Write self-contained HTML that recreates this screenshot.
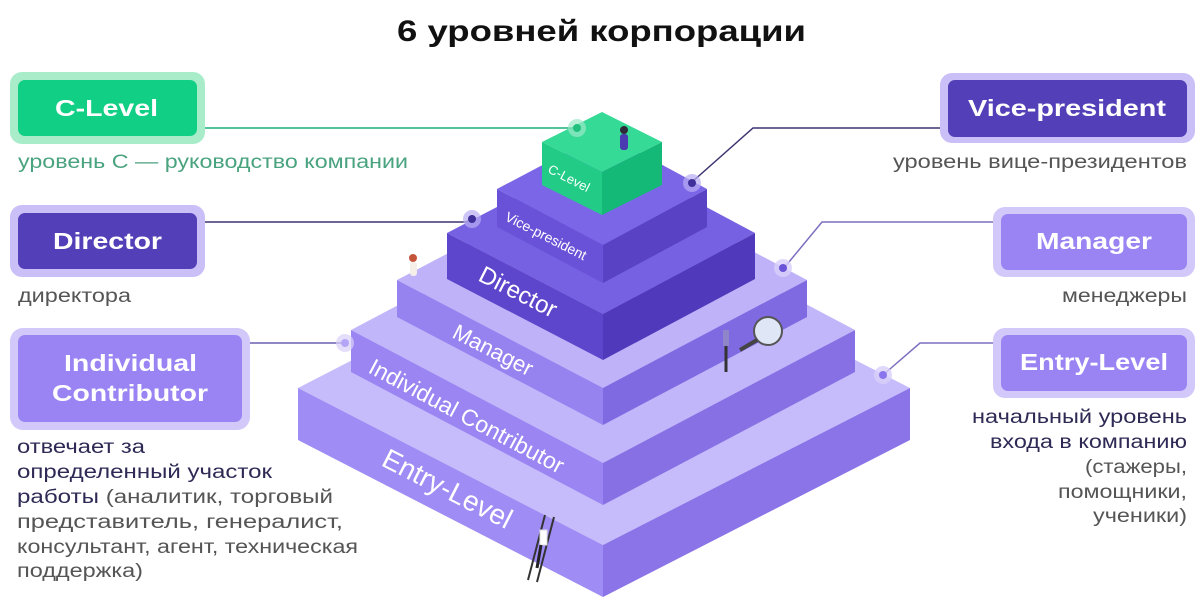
<!DOCTYPE html>
<html><head><meta charset="utf-8"><style>
html,body{margin:0;padding:0;background:#fff;}
svg{display:block;font-family:"Liberation Sans",sans-serif;}
</style></head><body>
<svg width="1199" height="615" viewBox="0 0 1199 615" xmlns="http://www.w3.org/2000/svg">
<rect width="1199" height="615" fill="#fff"/>
<text x="397" y="41" font-size="30" font-weight="bold" fill="#111" textLength="409" lengthAdjust="spacingAndGlyphs">6 уровней корпорации</text>

<!-- Entry -->
<polygon points="298,388 603,231 910,388 603,545" fill="#c6bcfb"/>
<polygon points="298,388 603,545 603,597 298,440" fill="#9f8cf5"/>
<polygon points="603,545 910,388 910,440 603,597" fill="#8a74e8"/>
<!-- IC -->
<polygon points="351,330 603,197 855,330 603,463" fill="#c2b6fa"/>
<polygon points="351,330 603,463 603,505 351,372" fill="#9a85f2"/>
<polygon points="603,463 855,330 855,372 603,505" fill="#8770e4"/>
<!-- Manager -->
<polygon points="397,280 603,172 807,280 603,388" fill="#bfb2f8"/>
<polygon points="397,280 603,388 603,425 397,317" fill="#9783f0"/>
<polygon points="603,388 807,280 807,317 603,425" fill="#806ae2"/>
<!-- Director -->
<polygon points="447,233 603,152 755,233 603,314" fill="#7561e2"/>
<polygon points="447,233 603,314 603,360 447,279" fill="#5d46cb"/>
<polygon points="603,314 755,233 755,279 603,360" fill="#5039ba"/>
<!-- VP -->
<polygon points="497,189 603,133 707,189 603,245" fill="#7a66e6"/>
<polygon points="497,189 603,245 603,283 497,227" fill="#6a52d8"/>
<polygon points="603,245 707,189 707,227 603,283" fill="#5a42c4"/>
<!-- Green -->
<polygon points="542,142 602,112 662,142 602,172" fill="#34da96"/>
<polygon points="542,142 602,172 602,215 542,185" fill="#22cc86"/>
<polygon points="602,172 662,142 662,185 602,215" fill="#14b877"/>

<g fill="#fff">
<text transform="translate(547,172) rotate(27)" font-size="13">C-Level</text>
<text transform="translate(504,220) rotate(27)" font-size="14">Vice-president</text>
<text transform="translate(477,280) rotate(27)" font-size="24">Director</text>
<text transform="translate(451,337) rotate(27)" font-size="22">Manager</text>
<text transform="translate(367,372) rotate(28)" font-size="23">Individual Contributor</text>
<text transform="translate(380,465) rotate(27)" font-size="28">Entry-Level</text>
</g>

<g>
<rect x="620" y="134" width="8" height="16" rx="3" fill="#4b3bb0"/><circle cx="624" cy="130" r="4" fill="#2d2a3a"/>
<rect x="410" y="262" width="7" height="14" rx="3" fill="#f4efe8"/><circle cx="413" cy="258" r="4" fill="#c4553a"/>
<circle cx="768" cy="331" r="14" fill="#dfe6f5" stroke="#555" stroke-width="2"/>
<line x1="740" y1="350" x2="757" y2="340" stroke="#444" stroke-width="4"/>
<rect x="723" y="330" width="6" height="16" fill="#8e86c8"/><line x1="726" y1="346" x2="726" y2="372" stroke="#333" stroke-width="3"/>
<line x1="528" y1="580" x2="545" y2="515" stroke="#333" stroke-width="2"/><line x1="537" y1="582" x2="554" y2="517" stroke="#333" stroke-width="2"/>
<rect x="540" y="530" width="7" height="15" fill="#fff" stroke="#ddd"/><line x1="541" y1="545" x2="537" y2="568" stroke="#222" stroke-width="3"/>
</g>

<g fill="none" stroke-width="1.5">
<polyline points="205,128 577,128" stroke="#1bb07a"/>
<polyline points="205,222 466,222 472,219" stroke="#3c3470"/>
<polyline points="250,343 343,343" stroke="#6a5fb0"/>
<polyline points="940,128 753,128 692,182" stroke="#3c3470"/>
<polyline points="993,222 822,222 784,268" stroke="#7c6fc0"/>
<polyline points="993,343 920,343 883,375" stroke="#7c6fc0"/>
</g>
<g>
<circle cx="577" cy="128" r="9" fill="#9ae8c6" opacity="0.7"/><circle cx="577" cy="128" r="4" fill="#22c07f"/>
<circle cx="472" cy="219" r="9" fill="#b9acf4" opacity="0.7"/><circle cx="472" cy="219" r="4" fill="#3e2f9a"/>
<circle cx="345" cy="343" r="9" fill="#d8d0fa" opacity="0.7"/><circle cx="345" cy="343" r="4" fill="#b4a6f6"/>
<circle cx="692" cy="183" r="9" fill="#b9acf4" opacity="0.7"/><circle cx="692" cy="183" r="4" fill="#3e2f9a"/>
<circle cx="783" cy="268" r="9" fill="#d8d0fa" opacity="0.8"/><circle cx="783" cy="268" r="4" fill="#6a55d8"/>
<circle cx="883" cy="375" r="9" fill="#d8d0fa" opacity="0.8"/><circle cx="883" cy="375" r="4" fill="#8a74ee"/>
</g>

<!-- Left boxes -->
<rect x="10" y="72" width="195" height="72" rx="12" fill="#a8ecc9"/>
<rect x="18" y="80" width="179" height="56" rx="7" fill="#12cf86"/>
<text x="55" y="116" font-size="23" font-weight="bold" fill="#fff" textLength="103" lengthAdjust="spacingAndGlyphs">C-Level</text>
<text x="18" y="168" font-size="19" fill="#4aa37f" textLength="390" lengthAdjust="spacingAndGlyphs">уровень C — руководство компании</text>

<rect x="10" y="205" width="195" height="72" rx="12" fill="#cbbff7"/>
<rect x="18" y="213" width="179" height="56" rx="7" fill="#5340b8"/>
<text x="53" y="249" font-size="23" font-weight="bold" fill="#fff" textLength="109" lengthAdjust="spacingAndGlyphs">Director</text>
<text x="18" y="302" font-size="19" fill="#555" textLength="113" lengthAdjust="spacingAndGlyphs">директора</text>

<rect x="10" y="328" width="240" height="102" rx="13" fill="#d2c8fa"/>
<rect x="18" y="335" width="224" height="87" rx="7" fill="#9a84f3"/>
<text x="64" y="371" font-size="23" font-weight="bold" fill="#fff" textLength="133" lengthAdjust="spacingAndGlyphs">Individual</text>
<text x="52" y="401" font-size="23" font-weight="bold" fill="#fff" textLength="156" lengthAdjust="spacingAndGlyphs">Contributor</text>
<g font-size="19">
<text x="17" y="453" fill="#2e2a55" textLength="128" lengthAdjust="spacingAndGlyphs">отвечает за</text>
<text x="17" y="478" fill="#2e2a55" textLength="255" lengthAdjust="spacingAndGlyphs">определенный участок</text>
<text x="17" y="503" textLength="316" lengthAdjust="spacingAndGlyphs"><tspan fill="#2e2a55">работы</tspan><tspan fill="#555"> (аналитик, торговый</tspan></text>
<text x="17" y="528" fill="#555" textLength="326" lengthAdjust="spacingAndGlyphs">представитель, генералист,</text>
<text x="17" y="553" fill="#555" textLength="341" lengthAdjust="spacingAndGlyphs">консультант, агент, техническая</text>
<text x="17" y="577" fill="#555" textLength="126" lengthAdjust="spacingAndGlyphs">поддержка)</text>
</g>

<!-- Right boxes -->
<rect x="940" y="73" width="255" height="70" rx="12" fill="#cbbff7"/>
<rect x="948" y="80" width="239" height="57" rx="7" fill="#5340b8"/>
<text x="968" y="116" font-size="23" font-weight="bold" fill="#fff" textLength="198" lengthAdjust="spacingAndGlyphs">Vice-president</text>
<text x="893" y="168" font-size="19" fill="#555" textLength="294" lengthAdjust="spacingAndGlyphs">уровень вице-президентов</text>

<rect x="993" y="207" width="202" height="70" rx="12" fill="#d2c8fa"/>
<rect x="1001" y="214" width="186" height="56" rx="7" fill="#9a84f3"/>
<text x="1036" y="249" font-size="23" font-weight="bold" fill="#fff" textLength="116" lengthAdjust="spacingAndGlyphs">Manager</text>
<text x="1062" y="302" font-size="19" fill="#555" textLength="125" lengthAdjust="spacingAndGlyphs">менеджеры</text>

<rect x="993" y="328" width="202" height="70" rx="12" fill="#d2c8fa"/>
<rect x="1001" y="335" width="186" height="56" rx="7" fill="#9a84f3"/>
<text x="1020" y="370" font-size="23" font-weight="bold" fill="#fff" textLength="148" lengthAdjust="spacingAndGlyphs">Entry-Level</text>
<g font-size="19">
<text x="972" y="423" fill="#2e2a55" textLength="215" lengthAdjust="spacingAndGlyphs">начальный уровень</text>
<text x="990" y="448" fill="#2e2a55" textLength="197" lengthAdjust="spacingAndGlyphs">входа в компанию</text>
<text x="1085" y="473" fill="#555" textLength="102" lengthAdjust="spacingAndGlyphs">(стажеры,</text>
<text x="1058" y="498" fill="#555" textLength="129" lengthAdjust="spacingAndGlyphs">помощники,</text>
<text x="1093" y="522" fill="#555" textLength="94" lengthAdjust="spacingAndGlyphs">ученики)</text>
</g>
</svg>
</body></html>
